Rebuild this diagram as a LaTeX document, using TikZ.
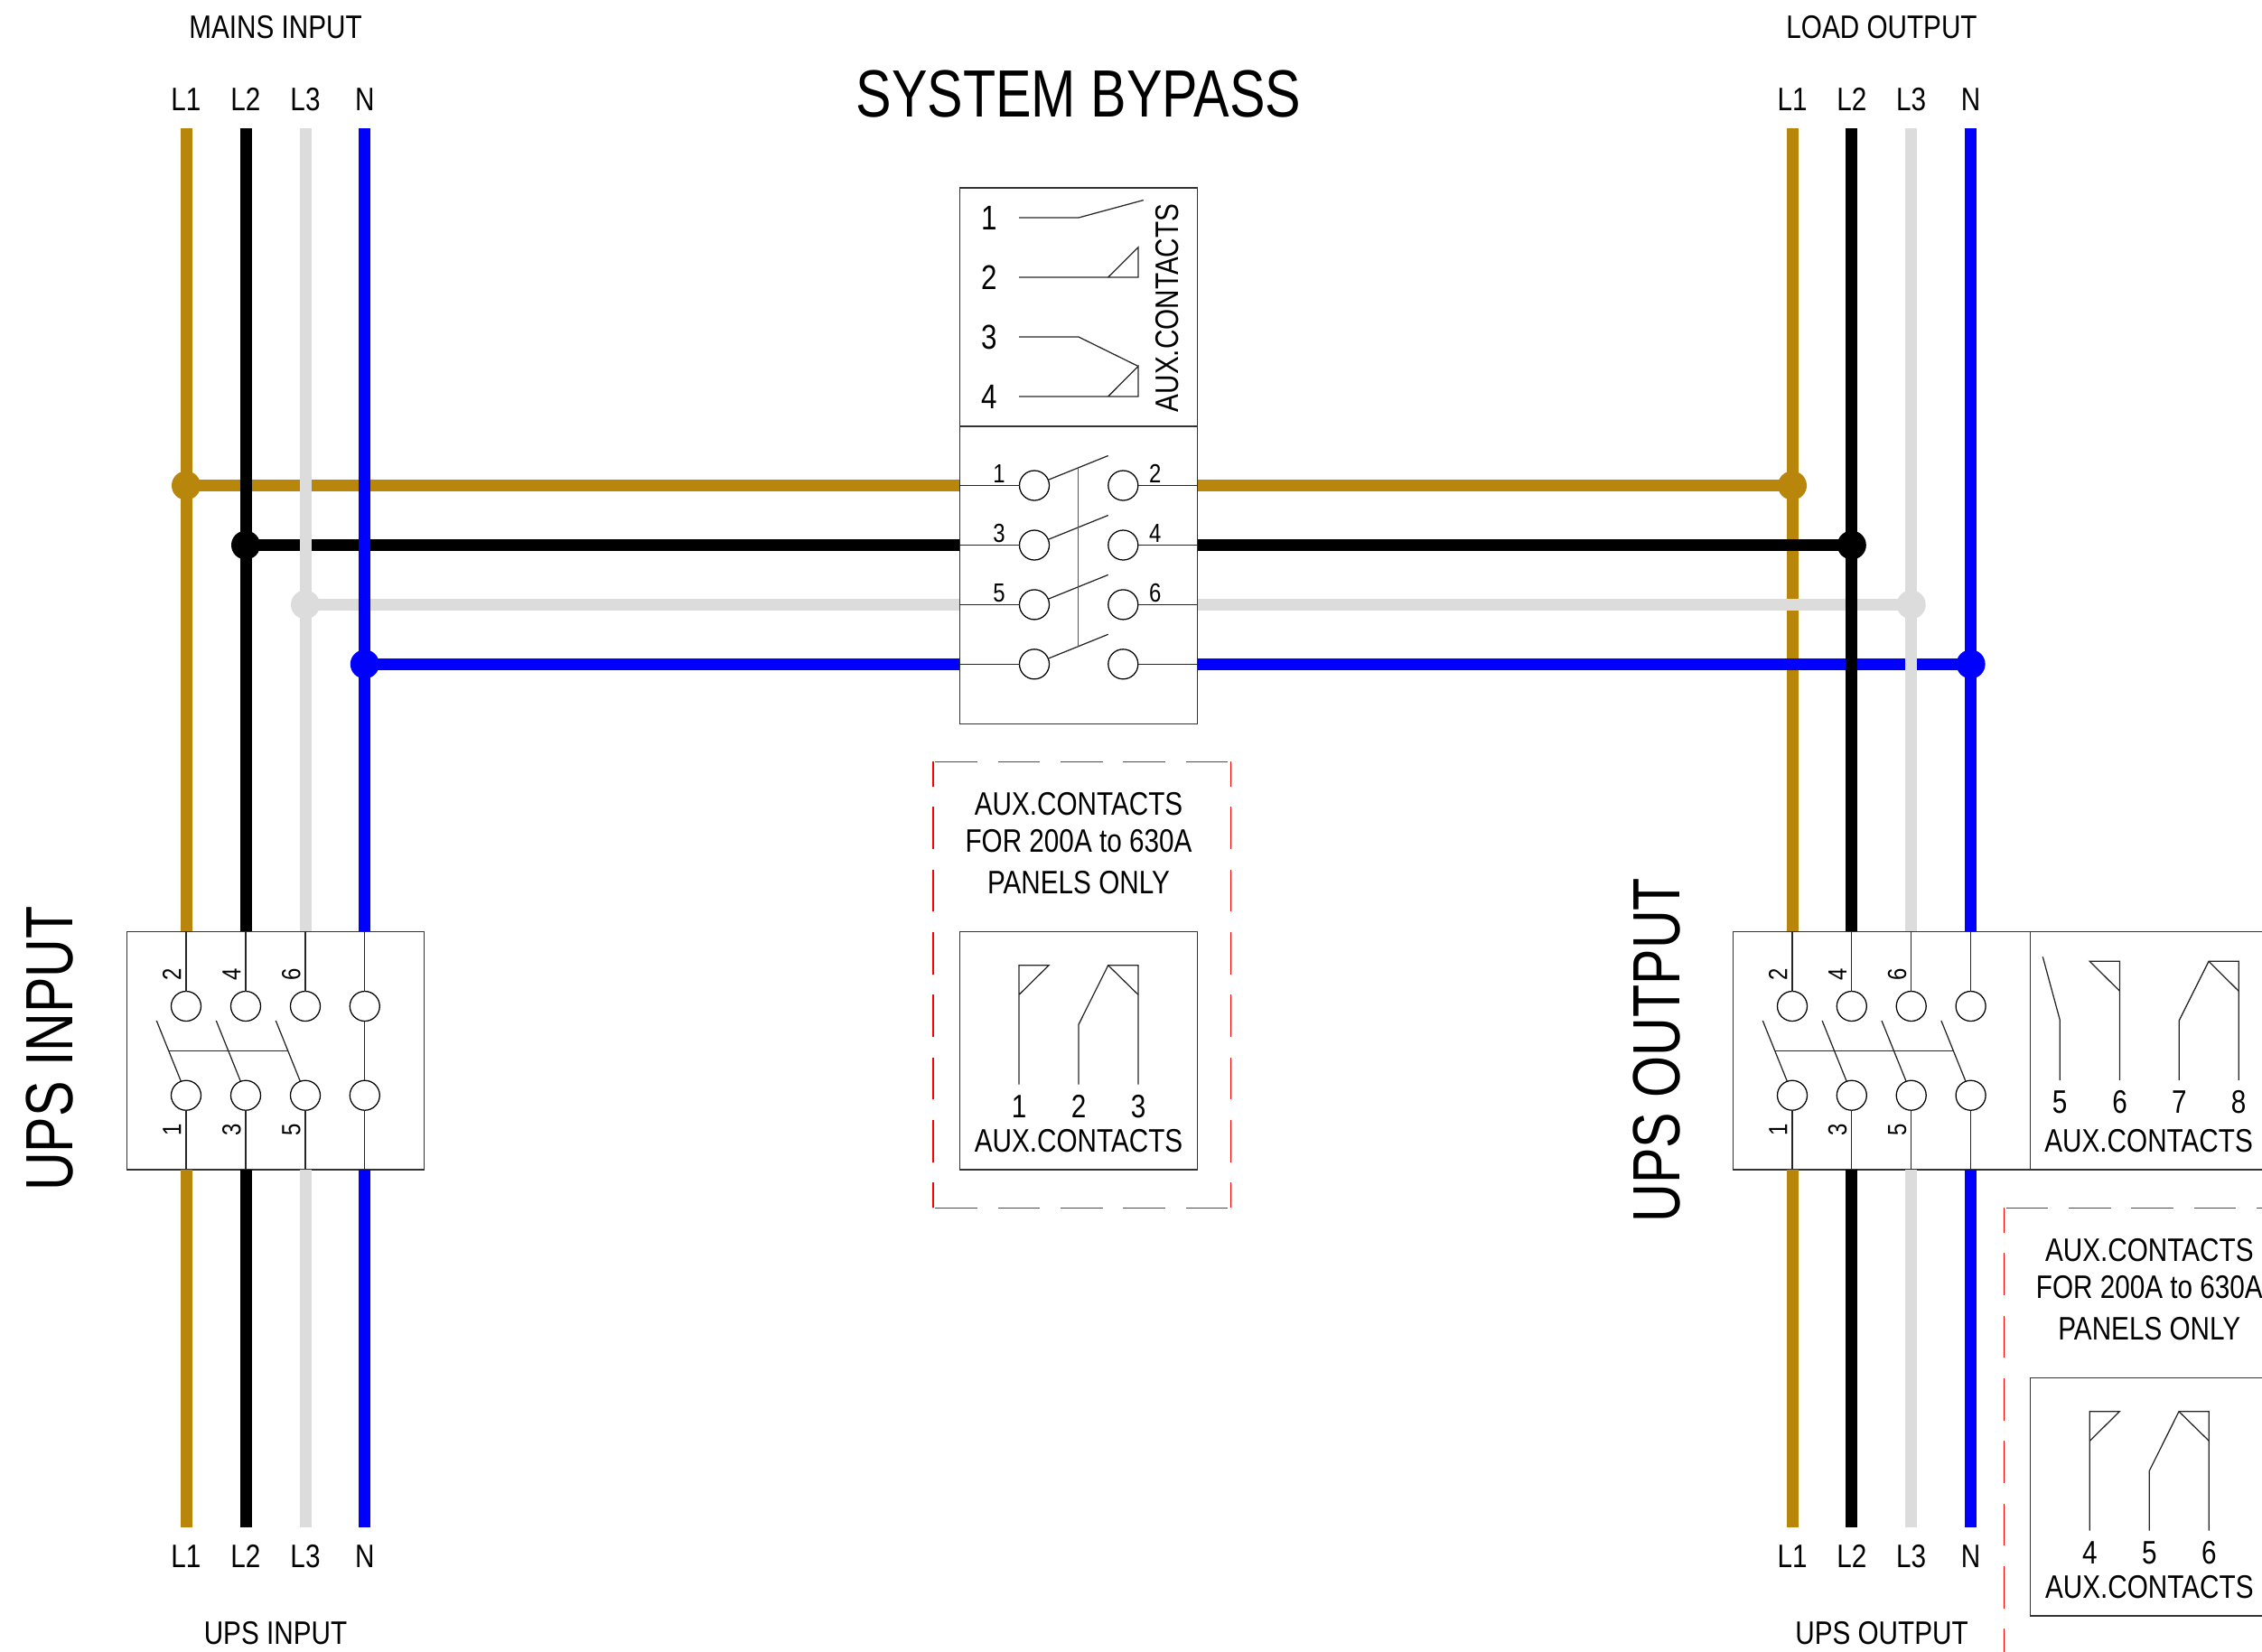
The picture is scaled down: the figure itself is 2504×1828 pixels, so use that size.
\documentclass[tikz,border=0pt]{standalone}
\usepackage{fontspec}
\setmainfont{Liberation Sans}
\newfontfamily\cadfont[FakeStretch=0.825]{Liberation Sans}
\newfontfamily\cadwide[FakeStretch=0.80]{Liberation Sans}
\usetikzlibrary{calc}
\definecolor{busbrown}{HTML}{B8860B}
\definecolor{busgrey}{HTML}{DCDCDC}
\definecolor{busblue}{HTML}{0000FF}
\definecolor{tiegrey}{HTML}{555555}
\tikzset{
  thin wire/.style={line width=0.38pt,black!85},
  tie wire/.style={line width=0.5pt,tiegrey},
  panel/.style={draw=black!80,line width=0.45pt,rectangle,inner sep=0,outer sep=0},
  pole/.style={draw=black,line width=0.38pt,circle,fill=white,minimum size=9.9pt,inner sep=0,outer sep=0},
  joint/.style={circle,inner sep=0,outer sep=0,minimum size=9.6pt},
  bus/.style={line width=3.9pt},
  lab/.style={inner sep=0,outer sep=0,text height=7.73pt,text depth=0pt,font=\cadfont\fontsize{10.8}{13}\selectfont},
  smalllab/.style={lab,text height=6.2pt,font=\cadfont\fontsize{8.7}{10}\selectfont},
  biglab/.style={lab,text height=15.9pt,font=\cadwide\fontsize{22.2}{26}\selectfont},
  auxnum/.style={lab,text height=8.2pt,font=\cadfont\fontsize{11.4}{13}\selectfont},
  redhoriz/.style={red,line width=0.38pt,dash pattern=on 14pt off 6.8pt,dash phase=20.1pt},
  redvert/.style={red,line width=0.38pt,dash pattern=on 14pt off 6.8pt,dash phase=5.8pt},
}
\newcommand{\redframe}[3]{%
  \coordinate (#1nw) at (#2);
  \coordinate (#1se) at (#3);
  \draw[redhoriz] (#1nw) -- (#1nw -| #1se);
  \draw[redhoriz] (#1nw |- #1se) -- (#1se);
  \draw[redvert] (#1nw) -- (#1nw |- #1se);
  \draw[redvert] (#1nw -| #1se) -- (#1se);
}
\newcommand{\cocontacts}[5]{%
  \begin{scope}[shift={(#2)}]
    \node[panel,minimum width=79.02pt,minimum height=79.1pt] (#1box) at (1194,1163.2) {};
    \coordinate (#1a0) at (1128,1200.7);
    \coordinate (#1b0) at (1194,1200.7);
    \coordinate (#1c0) at (1260,1200.7);
    \draw[thin wire] (#1a0) -- (1128,1068.7) -- (1161,1068.7) -- (1128,1101.3);
    \draw[thin wire] (#1b0) -- (1194,1134.3) -- (1226.7,1068.7) -- (1260,1068.7) -- (#1c0);
    \draw[thin wire] (1226.7,1068.7) -- (1260,1101.3);
    \node[lab] (#1an) at (1128,1225) {#3};
    \node[lab] (#1bn) at (1194,1225) {#4};
    \node[lab] (#1cn) at (1260,1225) {#5};
    \node[lab] (#1title) at (1194,1262.3) {AUX.CONTACTS};
    \node[lab] (#1t1) at (1194,890) {AUX.CONTACTS};
    \node[lab] (#1t2) at (1194,930.7) {FOR 200A to 630A};
    \node[lab] (#1t3) at (1194,976.7) {PANELS ONLY};
    \redframe{#1f}{1033,843.3}{1362.3,1337.3}
  \end{scope}
}
\begin{document}
\begin{tikzpicture}[x=0.3pt,y=-0.3pt]
\useasboundingbox (0,0) rectangle (2504,1828);
\clip (0,0) rectangle (2504,1828);

% panels
\node[panel,minimum width=79.02pt,minimum height=79.2pt] (auxtop) at (1194,340) {};
\node[panel,minimum width=79.02pt,minimum height=98.85pt] (byp) at (1194,636.75) {};
\node[panel,minimum width=98.82pt,minimum height=79.1pt] (swin) at (305,1163.2) {};
\node[panel,minimum width=98.7pt,minimum height=79.1pt] (swout) at (2083,1163.2) {};
\node[panel,minimum width=98.8pt,minimum height=79.1pt] (auxout) at (2412.3,1163.2) {};

% joints
\foreach \n/\x/\y/\c in {l1/206/537.5/busbrown,l2/272/603.5/black,l3/338/669.4/busgrey,l4/403.8/735.3/busblue,
                         r1/1984/537.5/busbrown,r2/2049.8/603.5/black,r3/2115.7/669.4/busgrey,r4/2181.6/735.3/busblue}
  \node[joint,fill=\c] (\n) at (\x,\y) {};

% free bus ends
\foreach \n/\x in {1/206,2/272,3/338,4/403.8}{
  \coordinate (lt\n) at (\x,142.3);
  \coordinate (lb\n) at (\x,1690.7);
}
\foreach \n/\x in {1/1984,2/2049.8,3/2115.7,4/2181.6}{
  \coordinate (rt\n) at (\x,142.3);
  \coordinate (rb\n) at (\x,1690.7);
}

% brown risers lie under the horizontals
\draw[bus,busbrown] (lt1) -- (lt1 |- swin.north);
\draw[bus,busbrown] (lb1) -- (lb1 |- swin.south);
\draw[bus,busbrown] (rt1) -- (rt1 |- swout.north);
\draw[bus,busbrown] (rb1) -- (rb1 |- swout.south);

% horizontals
\foreach \n/\c in {1/busbrown,2/black,3/busgrey,4/busblue}{
  \draw[bus,\c] (l\n.center) -- (byp.west |- l\n);
  \draw[bus,\c] (byp.east |- r\n) -- (r\n.center);
}

% other risers on top
\foreach \n/\c in {2/black,3/busgrey,4/busblue}{
  \draw[bus,\c] (lt\n) -- (lt\n |- swin.north);
  \draw[bus,\c] (lb\n) -- (lb\n |- swin.south);
  \draw[bus,\c] (rt\n) -- (rt\n |- swout.north);
  \draw[bus,\c] (rb\n) -- (rb\n |- swout.south);
}

% labels
\node[lab] (mains) at (305,30) {MAINS INPUT};
\node[lab] (load) at (2083,30) {LOAD OUTPUT};
\node[lab] (upsinb) at (305,1808) {UPS INPUT};
\node[lab] (upsoutb) at (2083,1808) {UPS OUTPUT};
\foreach \n/\t in {1/L1,2/L2,3/L3,4/N}{
  \node[lab] (ltl\n) at ($(lt\n)+(0,-32.3)$) {\t};
  \node[lab] (lbl\n) at ($(lb\n)+(0,32.3)$) {\t};
  \node[lab] (rtl\n) at ($(rt\n)+(0,-32.3)$) {\t};
  \node[lab] (rbl\n) at ($(rb\n)+(0,32.3)$) {\t};
}
\node[biglab] (title) at (1194,102.5) {SYSTEM BYPASS};
\node[biglab,rotate=90] (upsin) at (54,1161) {UPS INPUT};
\node[biglab,rotate=90] (upsout) at (1833,1162.6) {UPS OUTPUT};

% bypass aux contacts
\foreach \n/\y in {1/241,2/307,3/373,4/439}{
  \node[auxnum] (auxn\n) at (1095.5,\y) {\n};
  \coordinate (auxw\n) at (1128,\y);
}
\node[lab,rotate=90] (auxtxt) at (1292,341) {AUX.CONTACTS};
\draw[thin wire] (auxw1) -- (1194,241) -- (1265.7,221.6);
\draw[thin wire] (auxw2) -- (1260,307) -- (1260,273.8) -- (1226.6,307);
\draw[thin wire] (auxw3) -- (1194,373) -- (1260,405.5);
\draw[thin wire] (auxw4) -- (1260,439) -- (1260,405.5) -- (1226.6,439);

% bypass switch
\foreach \n/\y in {1/537.5,2/603.5,3/669.4,4/735.3}{
  \node[pole] (pa\n) at (1145,\y) {};
  \node[pole] (pb\n) at (1243.3,\y) {};
  \draw[thin wire] (byp.west |- pa\n) -- (pa\n.west);
  \draw[thin wire] (pb\n.east) -- (byp.east |- pb\n);
  \coordinate (bl\n) at ($(pa\n.center)+(81.7,-33)$);
  \draw[thin wire] (pa\n.22) -- (bl\n);
}
\draw[tie wire] ($(pa1.22)!0.5!(bl1)$) -- ($(pa4.22)!0.5!(bl4)$);
\node[smalllab] (bn1) at (1106,524) {1};
\node[smalllab] (bn3) at (1106,590) {3};
\node[smalllab] (bn5) at (1106,656) {5};
\node[smalllab] (bn2) at (1278.7,524) {2};
\node[smalllab] (bn4) at (1278.7,590) {4};
\node[smalllab] (bn6) at (1278.7,656) {6};

% input and output switches
\foreach \s/\bx/\a/\b/\c/\d in {i/swin/206/272/338/403.8,o/swout/1984/2049.8/2115.7/2181.6}{
  \foreach \n/\x in {1/\a,2/\b,3/\c,4/\d}{
    \node[pole] (\s t\n) at (\x,1114) {};
    \node[pole] (\s b\n) at (\x,1212.7) {};
    \draw[thin wire] (\bx.north -| \s t\n) -- (\s t\n.north);
    \draw[thin wire] (\s b\n.south) -- (\bx.south -| \s b\n);
  }
  \foreach \n/\tp/\bt/\x in {1/2/1/\a,2/4/3/\b,3/6/5/\c}{
    \node[smalllab,rotate=90] (\s nt\n) at ($(\x,1079)+(-16,0)$) {\tp};
    \node[smalllab,rotate=90] (\s nb\n) at ($(\x,1251)+(-16,0)$) {\bt};
  }
}
% blades, input
\foreach \n in {1,2,3}{
  \coordinate (ibl\n) at ($(ib\n.center)+(-32.7,-82.7)$);
  \draw[thin wire] (ib\n.110) -- (ibl\n);
}
\draw[thin wire] ($(ib1.110)!0.5!(ibl1)$) -- ($(ib3.110)!0.5!(ibl3)$);
\draw[thin wire] (it4.south) -- (ib4.north);
% blades, output
\foreach \n in {1,2,3,4}{
  \coordinate (obl\n) at ($(ob\n.center)+(-32.7,-82.7)$);
  \draw[thin wire] (ob\n.110) -- (obl\n);
}
\draw[thin wire] ($(ob1.110)!0.5!(obl1)$) -- ($(ob4.110)!0.5!(obl4)$);

% output aux contacts 5-8
\coordinate (oa5) at (2280.2,1196);
\coordinate (oa6) at (2346.5,1196);
\coordinate (oa7) at (2412.3,1196);
\coordinate (oa8) at (2478.2,1196);
\draw[thin wire] (oa5) -- (2280.2,1129) -- (2261.3,1059.3);
\draw[thin wire] (oa6) -- (2346.5,1064.3) -- (2313.3,1064.3) -- (2346.5,1097.3);
\draw[thin wire] (oa7) -- (2412.3,1129.7) -- (2445,1064.3) -- (2478.2,1064.3) -- (oa8);
\draw[thin wire] (2445,1064.3) -- (2478.2,1097.3);
\node[lab] (on5) at (2280.2,1220) {5};
\node[lab] (on6) at (2346.5,1220) {6};
\node[lab] (on7) at (2412.3,1220) {7};
\node[lab] (on8) at (2478.2,1220) {8};
\node[lab] (ontitle) at (2378.6,1262.3) {AUX.CONTACTS};

% 200A to 630A panels
\cocontacts{pm}{0,0}{1}{2}{3}
\cocontacts{pr}{1185.3,494}{4}{5}{6}
\end{tikzpicture}
\end{document}
